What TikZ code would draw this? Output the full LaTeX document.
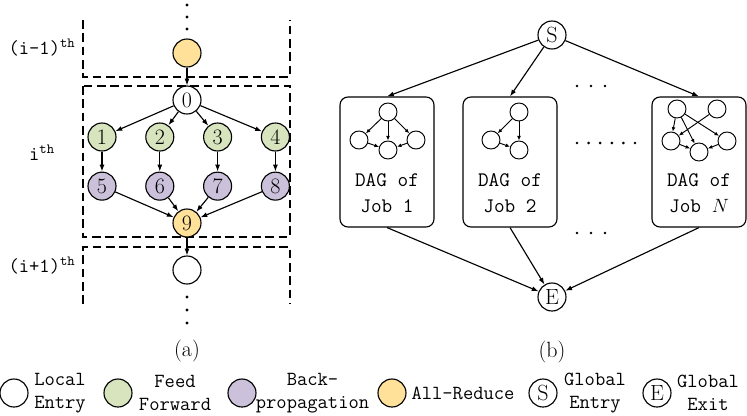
\documentclass[tikz,border=0pt]{standalone}
\usepackage{fontspec}
\usepackage{tikz}
\usetikzlibrary{arrows.meta,positioning}
\definecolor{arYellow}{HTML}{FFE199}
\definecolor{ffGreen}{HTML}{D7E4BD}
\definecolor{bpPurple}{HTML}{CCC1DA}

\begin{document}
\begin{tikzpicture}[x=0.75pt, y=-0.75pt, line width=0.85pt,
      every node/.style={font=\fontsize{15}{17.5}\selectfont\ttfamily},
      op/.style={draw, circle, minimum size=21pt, inner sep=0pt, font=\fontsize{16.5}{16.5}\selectfont\rmfamily},
      ff/.style={op, fill=ffGreen}, bp/.style={op, fill=bpPurple}, ar/.style={op, fill=arYellow},
      mini/.style={draw, circle, minimum size=13.5pt, inner sep=0pt, line width=0.7pt},
      jobbox/.style={draw, rounded corners=6pt, minimum width=70.5pt, minimum height=97.5pt, inner sep=0pt},
      jobtext/.style={align=center, font=\fontsize{15.5}{20}\selectfont\ttfamily},
      layer/.style={dash pattern=on 6.5pt off 3.5pt},
      captext/.style={font=\fontsize{16.5}{16.5}\selectfont\rmfamily},
      arr/.style={-{Latex[length=1.8mm,width=1.3mm]}},
      marr/.style={-{Latex[length=1.2mm,width=1mm]}, line width=0.7pt}]
    \useasboundingbox (0,0) rectangle (747,415);
    % (a) one training iteration and its neighbours
    \draw[layer] (83,20) -- (83,77) -- (290,77) -- (290,20);
    \draw[layer] (83,86) rectangle (290,237);
    \draw[layer] (83,304) -- (83,247) -- (290,247) -- (290,304);
    \foreach \y in {5,17,29,297,310,323} \fill (187,\y) circle (1.3pt);
    \node (lprev) at (42,48) {(i-1)\textsuperscript{th}};
    \node (lcur) at (42,153) {i\textsuperscript{th}};
    \node (lnext) at (42,266) {(i+1)\textsuperscript{th}};
    \node[ar] (prev) at (187,53) {};
    \node[op] (n0) at (187,100) {0};
    \node[ff] (n1) at (102,137) {1};
    \node[ff, right=21.5pt of n1] (n2) {2};
    \node[ff, right=21.5pt of n2] (n3) {3};
    \node[ff, right=21.5pt of n3] (n4) {4};
    \node[bp, below=15pt of n1] (n5) {5};
    \node[bp, below=15pt of n2] (n6) {6};
    \node[bp, below=15pt of n3] (n7) {7};
    \node[bp, below=15pt of n4] (n8) {8};
    \node[ar] (n9) at (187,223) {9};
    \node[op] (next) at (187,270) {};
    \draw[arr] (prev) -- (n0);
    \draw[arr] (n0) -- (n1); \draw[arr] (n0) -- (n2); \draw[arr] (n0) -- (n3); \draw[arr] (n0) -- (n4);
    \draw[arr] (n1) -- (n5); \draw[arr] (n2) -- (n6); \draw[arr] (n3) -- (n7); \draw[arr] (n4) -- (n8);
    \draw[arr] (n5) -- (n9); \draw[arr] (n6) -- (n9); \draw[arr] (n7) -- (n9); \draw[arr] (n8) -- (n9);
    \draw[arr] (n9) -- (next);
    \node[captext] (capa) at (187,351) {(a)};
    % (b) jobs between global entry and exit
    \node[op] (S) at (552,35) {S};
    \node[jobbox] (job1) at (387,162) {};
    \node[jobbox] (job2) at (510,162) {};
    \node[jobbox] (jobN) at (699,162) {};
    \node[op] (E) at (552,297) {E};
    \node[jobtext] (t1) at (387,193) {DAG of\\Job 1};
    \node[jobtext] (t2) at (510,193) {DAG of\\Job 2};
    \node[jobtext] (tN) at (699,193) {DAG of\\Job $N$};
    \draw[arr] (S) -- (job1.north); \draw[arr] (S) -- (job2.north); \draw[arr] (S) -- (jobN.north);
    \draw[arr] (job1.south) -- (E); \draw[arr] (job2.south) -- (E); \draw[arr] (jobN.south) -- (E);
    \foreach \x in {577,591,605} {\fill (\x,86) circle (1.1pt); \fill (\x,233) circle (1.1pt);}
    \foreach \x in {577,588.6,600.2,611.8,623.4,635} \fill (\x,143) circle (1.1pt);
    \node[mini] (a1) at (388,112) {}; \node[mini] (b1) at (359,140) {};
    \node[mini] (c1) at (388,150) {}; \node[mini] (d1) at (416,140) {};
    \draw[marr] (a1) -- (b1); \draw[marr] (a1) -- (c1); \draw[marr] (a1) -- (d1);
    \draw[marr] (b1) -- (c1); \draw[marr] (d1) -- (c1);
    \node[mini] (a2) at (519,112) {}; \node[mini] (b2) at (491,140) {};
    \node[mini] (c2) at (519,150) {};
    \draw[marr] (a2) -- (b2); \draw[marr] (a2) -- (c2); \draw[marr] (b2) -- (c2);
    \node[mini] (aN) at (677,109) {}; \node[mini] (bN) at (717,109) {};
    \node[mini] (lN) at (671,141) {}; \node[mini] (rN) at (727,141) {};
    \node[mini] (cN) at (699,152) {};
    \draw[marr] (aN) -- (lN); \draw[marr] (aN) -- (cN); \draw[marr] (aN) -- (rN);
    \draw[marr] (bN) -- (lN); \draw[marr] (lN) -- (cN); \draw[marr] (rN) -- (cN);
    \node[captext] (capb) at (552,352) {(b)};
    % legend
    \node[op] (lg1) at (14,393) {};
    \node[align=center] (lgt1) at (60,393) {Local\\Entry};
    \node[ff] (lg2) at (118,393) {};
    \node[align=center] (lgt2) at (175,393) {Feed\\Forward};
    \node[bp] (lg3) at (242,393) {};
    \node[align=center] (lgt3) at (312.5,393) {Back-\\propagation};
    \node[ar] (lg4) at (392,393) {};
    \node (lgt4) at (463,393) {All-Reduce};
    \node[op] (lg5) at (543,393) {S};
    \node[align=center] (lgt5) at (595,393) {Global\\Entry};
    \node[op] (lg6) at (657,393) {E};
    \node[align=center] (lgt6) at (708,393) {Global\\Exit};
  \end{tikzpicture}
\end{document}
